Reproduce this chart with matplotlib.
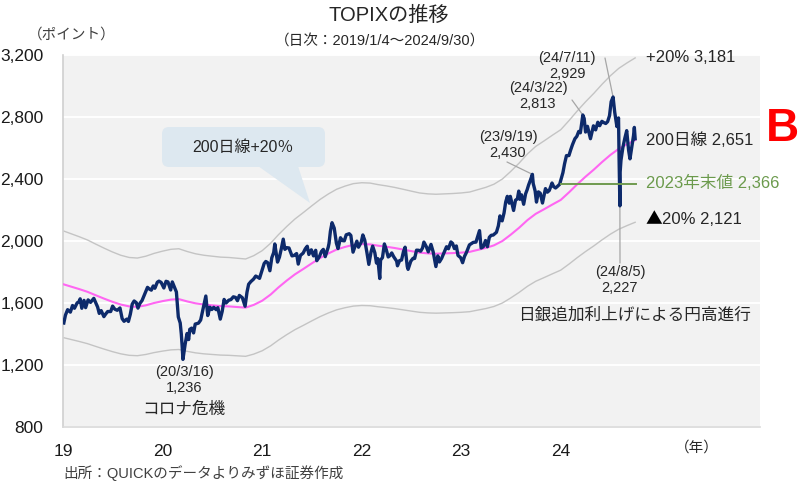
import pandas as pd
import matplotlib
matplotlib.use('Agg')
import matplotlib.pyplot as plt
from matplotlib.patches import FancyBboxPatch, Polygon

plt.rcParams['font.family'] = ['Liberation Sans', 'Noto Sans CJK JP', 'DejaVu Sans']

# 1. DATOS
topix_dates = [
    '2019-01-04', '2019-01-10', '2019-01-18', '2019-01-28', '2019-02-05', '2019-02-12', '2019-02-22', '2019-02-28',
    '2019-03-05', '2019-03-11', '2019-03-19', '2019-03-25', '2019-04-03', '2019-04-12', '2019-04-24', '2019-05-08',
    '2019-05-14', '2019-05-21', '2019-05-31', '2019-06-07', '2019-06-14', '2019-06-25', '2019-07-02', '2019-07-10',
    '2019-07-19', '2019-07-29', '2019-08-06', '2019-08-13', '2019-08-23', '2019-08-29', '2019-09-05', '2019-09-12',
    '2019-09-19', '2019-09-27', '2019-10-03', '2019-10-10', '2019-10-18', '2019-10-28', '2019-11-07', '2019-11-14',
    '2019-11-21', '2019-11-28', '2019-12-04', '2019-12-13', '2019-12-19', '2019-12-27',
    '2020-01-06', '2020-01-14', '2020-01-21', '2020-01-31', '2020-02-06', '2020-02-14', '2020-02-21', '2020-02-25',
    '2020-02-28', '2020-03-06', '2020-03-10', '2020-03-13', '2020-03-16', '2020-03-19', '2020-03-24', '2020-03-31',
    '2020-04-06', '2020-04-10', '2020-04-17', '2020-04-24', '2020-04-30', '2020-05-12', '2020-05-20', '2020-05-29',
    '2020-06-08', '2020-06-15', '2020-06-23', '2020-06-30', '2020-07-07', '2020-07-16', '2020-07-22', '2020-07-31',
    '2020-08-07', '2020-08-14', '2020-08-21', '2020-08-31', '2020-09-08', '2020-09-17', '2020-09-25', '2020-10-02',
    '2020-10-09', '2020-10-20', '2020-10-30', '2020-11-06', '2020-11-12', '2020-11-20', '2020-11-30', '2020-12-08',
    '2020-12-15', '2020-12-22', '2020-12-30',
    '2021-01-08', '2021-01-14', '2021-01-21', '2021-01-29', '2021-02-05', '2021-02-12', '2021-02-16', '2021-02-26',
    '2021-03-05', '2021-03-12', '2021-03-19', '2021-03-25', '2021-04-01', '2021-04-09', '2021-04-20', '2021-04-28',
    '2021-05-07', '2021-05-13', '2021-05-21', '2021-05-31', '2021-06-08', '2021-06-15', '2021-06-21', '2021-06-30',
    '2021-07-08', '2021-07-16', '2021-07-20', '2021-07-30', '2021-08-06', '2021-08-13', '2021-08-20', '2021-08-31',
    '2021-09-03', '2021-09-08', '2021-09-14', '2021-09-22', '2021-09-30', '2021-10-06', '2021-10-15', '2021-10-22',
    '2021-10-29', '2021-11-05', '2021-11-16', '2021-11-22', '2021-11-30', '2021-12-06', '2021-12-14', '2021-12-20',
    '2021-12-30',
    '2022-01-05', '2022-01-12', '2022-01-20', '2022-01-27', '2022-02-04', '2022-02-10', '2022-02-18', '2022-02-24',
    '2022-03-01', '2022-03-08', '2022-03-11', '2022-03-18', '2022-03-25', '2022-04-01', '2022-04-08', '2022-04-14',
    '2022-04-21', '2022-04-28', '2022-05-09', '2022-05-12', '2022-05-20', '2022-05-27', '2022-06-03', '2022-06-09',
    '2022-06-17', '2022-06-20', '2022-06-30', '2022-07-08', '2022-07-14', '2022-07-21', '2022-07-29', '2022-08-05',
    '2022-08-12', '2022-08-17', '2022-08-26', '2022-09-02', '2022-09-12', '2022-09-20', '2022-09-30', '2022-10-07',
    '2022-10-13', '2022-10-21', '2022-10-31', '2022-11-08', '2022-11-15', '2022-11-24', '2022-11-30', '2022-12-07',
    '2022-12-14', '2022-12-20', '2022-12-30',
    '2023-01-06', '2023-01-13', '2023-01-20', '2023-01-31', '2023-02-07', '2023-02-14', '2023-02-24', '2023-03-06',
    '2023-03-09', '2023-03-15', '2023-03-23', '2023-03-31', '2023-04-07', '2023-04-14', '2023-04-21', '2023-04-28',
    '2023-05-10', '2023-05-17', '2023-05-23', '2023-05-31', '2023-06-07', '2023-06-13', '2023-06-19', '2023-06-26',
    '2023-06-30', '2023-07-06', '2023-07-12', '2023-07-19', '2023-07-26', '2023-07-31', '2023-08-04', '2023-08-10',
    '2023-08-18', '2023-08-25', '2023-08-31', '2023-09-05', '2023-09-12', '2023-09-19', '2023-09-22', '2023-09-29',
    '2023-10-04', '2023-10-11', '2023-10-18', '2023-10-26', '2023-11-06', '2023-11-13', '2023-11-20', '2023-11-30',
    '2023-12-06', '2023-12-13', '2023-12-19', '2023-12-28',
    '2024-01-09', '2024-01-15', '2024-01-22', '2024-01-31', '2024-02-06', '2024-02-13', '2024-02-22', '2024-02-29',
    '2024-03-07', '2024-03-13', '2024-03-22', '2024-03-27', '2024-04-01', '2024-04-08', '2024-04-19', '2024-04-30',
    '2024-05-08', '2024-05-16', '2024-05-23', '2024-05-31', '2024-06-07', '2024-06-14', '2024-06-21', '2024-06-28',
    '2024-07-04', '2024-07-11', '2024-07-17', '2024-07-25', '2024-07-31', '2024-08-02', '2024-08-05', '2024-08-06',
    '2024-08-09', '2024-08-16', '2024-08-23', '2024-08-30', '2024-09-06', '2024-09-11', '2024-09-19', '2024-09-24',
    '2024-09-27', '2024-09-30',
]
topix_values = [
    1471, 1522, 1557, 1541, 1584, 1566, 1601, 1607,
    1627, 1566, 1617, 1570, 1620, 1604, 1630, 1574,
    1533, 1551, 1512, 1530, 1545, 1545, 1580, 1560,
    1553, 1568, 1499, 1482, 1496, 1481, 1528, 1593,
    1613, 1602, 1567, 1597, 1616, 1659, 1701, 1690,
    1683, 1710, 1695, 1734, 1741, 1733,
    1697, 1740, 1736, 1684, 1736, 1702, 1671, 1582,
    1510, 1471, 1400, 1325, 1236, 1271, 1333, 1403,
    1364, 1430, 1438, 1407, 1464, 1470, 1490, 1563,
    1645, 1519, 1573, 1558, 1572, 1557, 1570, 1496,
    1546, 1623, 1600, 1618, 1622, 1640, 1636, 1615,
    1649, 1634, 1579, 1670, 1721, 1738, 1754, 1774,
    1767, 1759, 1805,
    1855, 1868, 1860, 1808, 1892, 1926, 1981, 1864,
    1896, 1951, 2012, 1946, 1957, 1955, 1904, 1907,
    1919, 1851, 1907, 1922, 1950, 1966, 1913, 1943,
    1904, 1940, 1873, 1901, 1932, 1946, 1899, 1960,
    1985, 2063, 2118, 2083, 1986, 1951, 2021, 2003,
    2001, 2040, 2047, 2036, 1928, 1959, 1999, 1960,
    1992,
    2039, 2005, 1925, 1849, 1929, 1967, 1924, 1858,
    1886, 1758, 1877, 1893, 1981, 1944, 1897, 1905,
    1923, 1899, 1870, 1840, 1874, 1877, 1931, 1960,
    1835, 1817, 1870, 1888, 1887, 1941, 1940, 1934,
    1955, 1993, 1963, 1930, 1978, 1930, 1835, 1904,
    1865, 1888, 1929, 1963, 1950, 1994, 1985, 1951,
    1968, 1907, 1892,
    1860, 1901, 1926, 1975, 1983, 1991, 1993, 2051,
    2067, 1955, 1963, 2003, 1963, 2024, 2037, 2038,
    2056, 2097, 2162, 2130, 2181, 2251, 2288, 2244,
    2288, 2241, 2197, 2263, 2272, 2322, 2269, 2298,
    2237, 2304, 2332, 2361, 2394, 2430, 2371, 2323,
    2251, 2317, 2308, 2245, 2338, 2315, 2326, 2374,
    2351, 2342, 2351, 2366,
    2441, 2498, 2551, 2551, 2585, 2621, 2660, 2675,
    2707, 2698, 2813, 2790, 2703, 2740, 2660, 2743,
    2717, 2766, 2744, 2772, 2764, 2758, 2770, 2809,
    2899, 2929, 2831, 2738, 2794, 2538, 2227, 2446,
    2521, 2604, 2662, 2712, 2585, 2530, 2620, 2680,
    2733, 2660,
]

ma_dates = [
    '2019-01-04', '2019-02-01', '2019-03-01', '2019-04-01', '2019-05-01', '2019-06-01', '2019-07-01', '2019-08-01',
    '2019-09-01', '2019-10-01', '2019-11-01', '2019-12-01', '2020-01-01', '2020-02-01', '2020-03-01', '2020-04-01',
    '2020-05-01', '2020-06-01', '2020-07-01', '2020-08-01', '2020-09-01', '2020-10-01', '2020-11-01', '2020-12-01',
    '2021-01-01', '2021-02-01', '2021-03-01', '2021-04-01', '2021-05-01', '2021-06-01', '2021-07-01', '2021-08-01',
    '2021-09-01', '2021-10-01', '2021-11-01', '2021-12-01', '2022-01-01', '2022-02-01', '2022-03-01', '2022-04-01',
    '2022-05-01', '2022-06-01', '2022-07-01', '2022-08-01', '2022-09-01', '2022-10-01', '2022-11-01', '2022-12-01',
    '2023-01-01', '2023-02-01', '2023-03-01', '2023-04-01', '2023-05-01', '2023-06-01', '2023-07-01', '2023-08-01',
    '2023-09-01', '2023-10-01', '2023-11-01', '2023-12-01', '2024-01-01', '2024-02-01', '2024-03-01', '2024-04-01',
    '2024-05-01', '2024-06-01', '2024-07-01', '2024-08-01', '2024-09-01', '2024-09-30',
]
ma_values = [
    1720, 1705, 1690, 1672, 1650, 1628, 1608, 1590,
    1578, 1575, 1585, 1600, 1612, 1622, 1625, 1610,
    1598, 1590, 1585, 1580, 1578, 1574, 1570, 1588,
    1615, 1655, 1700, 1745, 1785, 1820, 1855, 1890,
    1920, 1945, 1962, 1975, 1980, 1978, 1970, 1963,
    1955, 1945, 1935, 1925, 1920, 1918, 1920, 1922,
    1925, 1930, 1942, 1955, 1972, 2000, 2040, 2085,
    2135, 2175, 2205, 2235, 2265, 2315, 2365, 2415,
    2460, 2510, 2555, 2595, 2625, 2651,
]
band_pct = 0.20
year_end_2023 = 2366

year_ticks = ['2019-01-01', '2020-01-01', '2021-01-01', '2022-01-01', '2023-01-01', '2024-01-01']
year_labels = ['19', '20', '21', '22', '23', '24']
y_ticks = [800, 1200, 1600, 2000, 2400, 2800, 3200]

# 2. FIGURA
W, H = 810, 486
fig = plt.figure(figsize=(W / 100, H / 100), dpi=100)
ax = fig.add_axes([63 / W, 1 - 427 / H, 697 / W, 372 / H])


def fx(px):
    return px / W


def fy(py):
    return 1 - py / H


t = pd.to_datetime(topix_dates)
m = pd.to_datetime(ma_dates)
ma = pd.Series(ma_values, dtype=float)

ax.set_facecolor('#f2f2f2')
ax.plot(m, ma * (1 + band_pct), color='#c4c4c4', lw=1.0, zorder=2)
ax.plot(m, ma * (1 - band_pct), color='#c4c4c4', lw=1.0, zorder=2)
ax.plot(m, ma, color='#ff66f2', lw=1.5, zorder=3)
ax.plot(t, topix_values, color='#0d2a6b', lw=2.4, zorder=4, solid_joinstyle='round')
ax.plot(pd.to_datetime(['2024-01-01', '2024-10-03']), [year_end_2023] * 2, color='#6f9a4f', lw=1.4, zorder=5)

ax.set_xlim(pd.Timestamp('2019-01-01'), pd.Timestamp('2026-01-01'))
ax.set_ylim(800, 3200)
ax.set_yticks(y_ticks)
ax.set_yticklabels([f'{v:,}' for v in y_ticks], fontsize=12.5, color='#1a1a1a')
ax.set_xticks(pd.to_datetime(year_ticks))
ax.set_xticklabels(year_labels, fontsize=12.5, color='#1a1a1a')
ax.tick_params(axis='both', length=0)
ax.tick_params(axis='y', pad=14)
ax.tick_params(axis='x', pad=12)
ax.grid(axis='y', color='white', lw=1.4, zorder=1)
ax.set_axisbelow(True)
for s in ['top', 'right']:
    ax.spines[s].set_visible(False)
ax.spines['left'].set_color('#d0d0d0')
ax.spines['bottom'].set_color('#d9d9d9')
ax.spines['left'].set_linewidth(1.2)
ax.spines['bottom'].set_linewidth(1.2)

# 3. TEXTOS
txt = '#262626'
fig.text(fx(389), fy(15), 'TOPIXの推移', fontsize=14.5, ha='center', va='center', color=txt)
fig.text(fx(380), fy(42), '（日次：2019/1/4～2024/9/30）', fontsize=10.5, ha='center', va='center', color=txt)
fig.text(fx(72), fy(35), '（ポイント）', fontsize=10.5, ha='center', va='center', color='#404040')
fig.text(fx(63), fy(473), '出所：QUICKのデータよりみずほ証券作成', fontsize=10.5, ha='left', va='center', color='#404040')
fig.text(fx(697), fy(448), '（年）', fontsize=10.5, ha='center', va='center', color=txt)
fig.text(fx(782), fy(129), 'B', fontsize=33, fontweight='bold', color='#ff0000', ha='center', va='center')

fig.text(fx(646), fy(57), '+20% 3,181', fontsize=12, ha='left', va='center', color=txt)
fig.text(fx(646), fy(140), '200日線 2,651', fontsize=12, ha='left', va='center', color=txt)
fig.text(fx(646), fy(183), '2023年末値 2,366', fontsize=12, ha='left', va='center', color='#6b9a4c')
fig.text(fx(646), fy(220), '▲', fontsize=12, ha='left', va='center', color='#000000', family=['Noto Sans CJK JP'])
fig.text(fx(662), fy(220), '20% 2,121', fontsize=12, ha='left', va='center', color=txt)

lead = dict(arrowstyle='-', color='#a6a6a6', lw=0.9, shrinkA=0, shrinkB=0)
labels = [
    ('(24/7/11)\n2,929', 567, 66, '2024-07-11', 2929, 605, 58),
    ('(24/3/22)\n2,813', 538, 96, '2024-03-22', 2813, 572, 100),
    ('(23/9/19)\n2,430', 508, 145, '2023-09-19', 2430, 507, 162),
    ('(24/8/5)\n2,227', 620, 280, '2024-08-05', 2227, 620, 263),
]
for s, tx, ty, d, v, lx, ly in labels:
    fig.text(fx(tx), fy(ty), s, fontsize=10.5, ha='center', va='center', color=txt, linespacing=1.15)
    ax.annotate('', xy=(pd.Timestamp(d), v), xytext=(fx(lx), fy(ly)), textcoords='figure fraction',
                arrowprops=lead, zorder=3)

fig.text(fx(184), fy(380), '(20/3/16)\n1,236', fontsize=10.5, ha='center', va='center', color=txt, linespacing=1.15)
fig.text(fx(184), fy(409), 'コロナ危機', fontsize=12, ha='center', va='center', color=txt)
fig.text(fx(634), fy(315), '日銀追加利上げによる円高進行', fontsize=12, ha='center', va='center', color=txt)

# 4. BOCADILLO
tr = fig.dpi_scale_trans
box = FancyBboxPatch((1.62, (H - 167) / 100), 1.63, 0.40, boxstyle='round,pad=0,rounding_size=0.07',
                     transform=tr, facecolor='#dde8f0', edgecolor='none', zorder=6)
tip = Polygon([(2.58, (H - 166) / 100), (2.98, (H - 166) / 100), (3.10, (H - 203) / 100)], closed=True,
              transform=tr, facecolor='#dde8f0', edgecolor='none', zorder=6)
fig.add_artist(box)
fig.add_artist(tip)
fig.text(fx(243), fy(147), '200日線+20％', fontsize=11.5, ha='center', va='center', color=txt, zorder=7)

fig.savefig('out.png', dpi=100)
